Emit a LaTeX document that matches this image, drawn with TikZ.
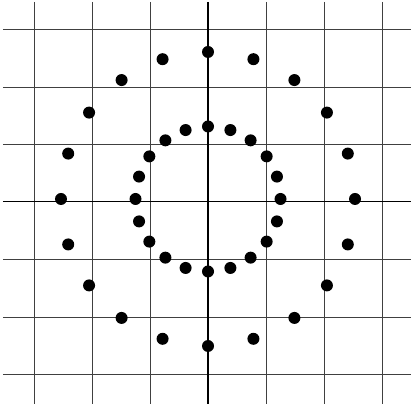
\documentclass[tikz,border=0pt]{standalone}
\usepackage{tikz}
\usetikzlibrary{positioning}

\begin{document}
\begin{tikzpicture}[scale=1.7391]
		
		\useasboundingbox (-2.080,-2.060) rectangle (2.030,2.020);
		
		\tikzset{gridline/.style={black!75,line width=0.35pt},
			axisline/.style={black,line width=0.5pt},
			dot/.style={black}}
		
		\coordinate (c) at (0,0.03);
		
		\foreach \k in {-3,-2,-1,1,2,3}{
			\draw[gridline] (-2.05,0.575*\k) -- (2.03,0.575*\k);
			\draw[gridline] (0.58*\k,2.0) -- (0.58*\k,-2.02);
		}
		\draw[axisline] (-2.05,0) -- (2.03,0);
		\draw[axisline] (0,2.0) -- (0,-2.02);
		
		\foreach \a in {0,18,...,342}{
			\fill[dot] (c) ++(\a:0.725) circle (0.06);
			\fill[dot] (c) ++(\a:1.47) circle (0.06);
		}
		
	\end{tikzpicture}
\end{document}
